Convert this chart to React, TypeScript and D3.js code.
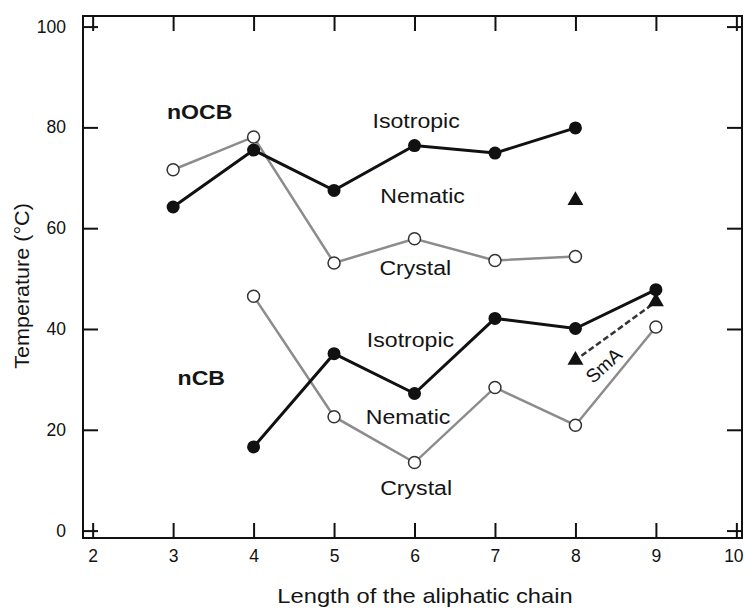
import React, { useEffect, useRef } from "react";
import * as d3 from "d3";

// chain length (n)
const nOCBChain = [3, 4, 5, 6, 7, 8];
const nOCBIsotropic = [64.2, 75.5, 67.5, 76.4, 74.9, 79.9];
const nOCBCrystal = [71.6, 78.1, 53.1, 57.9, 53.6, 54.4];
const nOCBSmA = [{ n: 8, t: 65.5 }];

const nCBChain = [4, 5, 6, 7, 8, 9];
const nCBIsotropic = [16.6, 35.1, 27.2, 42.1, 40.1, 47.8];
const nCBCrystal = [46.5, 22.6, 13.5, 28.4, 20.9, 40.4];
const nCBSmA = [{ n: 8, t: 33.8 }, { n: 9, t: 45.4 }];

const xTicks = [2, 3, 4, 5, 6, 7, 8, 9, 10];
const yTicks = [0, 20, 40, 60, 80, 100];

// phase labels, placed in data coordinates
const phaseLabels = [
    { text: "nOCB", n: 3.33, t: 83.2, bold: true },
    { text: "Isotropic", n: 6.02, t: 81.4, bold: false },
    { text: "Nematic", n: 6.1, t: 66.5, bold: false },
    { text: "Crystal", n: 6.01, t: 52.2, bold: false },
    { text: "nCB", n: 3.35, t: 30.4, bold: true },
    { text: "Isotropic", n: 5.95, t: 38.0, bold: false },
    { text: "Nematic", n: 5.92, t: 22.7, bold: false },
    { text: "Crystal", n: 6.02, t: 8.6, bold: false },
];

const W = 744;
const H = 610;
const FONT = "'Liberation Sans', Arial, Helvetica, sans-serif";

const App: React.FC = () => {
    const svgRef = useRef<SVGSVGElement>(null);

    useEffect(() => {
        if (!svgRef.current) return;
        const svg = d3.select(svgRef.current);
        svg.selectAll("*").remove();

        const left = 83, right = 742, top = 16, bottom = 538;

        const x = d3.scaleLinear().domain([1.88, 10.07]).range([left, right]);
        const y = d3.scaleLinear().domain([-1.47, 102.1]).range([bottom, top]);

        // frame
        svg.append("rect")
            .attr("x", left).attr("y", top)
            .attr("width", right - left).attr("height", bottom - top)
            .attr("fill", "none").attr("stroke", "#111").attr("stroke-width", 2);

        // inward ticks on all four sides
        const tk = 15;
        const axes = [
            { g: d3.axisBottom(x).tickValues(xTicks).tickSize(-tk), t: `translate(0,${bottom})` },
            { g: d3.axisTop(x).tickValues(xTicks).tickSize(-tk).tickFormat(() => ""), t: `translate(0,${top})` },
            { g: d3.axisLeft(y).tickValues(yTicks).tickSize(-tk), t: `translate(${left},0)` },
            { g: d3.axisRight(y).tickValues(yTicks).tickSize(-tk).tickFormat(() => ""), t: `translate(${right},0)` },
        ];
        axes.forEach((a, i) => {
            const ax = svg.append("g").attr("transform", a.t).call(a.g as any);
            ax.select(".domain").remove();
            ax.selectAll(".tick line").attr("stroke", "#111").attr("stroke-width", 2);
            ax.selectAll(".tick text")
                .attr("fill", "#111")
                .style("font-family", FONT)
                .style("font-size", "17.5px");
            if (i === 0) {
                ax.selectAll(".tick text").attr("y", 12);
                // keep the last label inside the page
                ax.selectAll<SVGTextElement, number>(".tick text")
                    .filter(d => d === 10)
                    .attr("dx", -3);
            }
            if (i === 2) ax.selectAll(".tick text").attr("x", -17);
        });

        const line = d3.line<[number, number]>().x(d => x(d[0])).y(d => y(d[1]));
        const grey = "#8c8c8c";

        const drawSeries = (chain: number[], iso: number[], cry: number[]) => {
            const isoPts = chain.map((n, i) => [n, iso[i]] as [number, number]);
            const cryPts = chain.map((n, i) => [n, cry[i]] as [number, number]);

            svg.append("path").attr("d", line(cryPts) || "")
                .attr("fill", "none").attr("stroke", grey).attr("stroke-width", 2.5);
            svg.append("path").attr("d", line(isoPts) || "")
                .attr("fill", "none").attr("stroke", "#111").attr("stroke-width", 3);

            svg.append("g").selectAll("circle").data(cryPts).enter().append("circle")
                .attr("cx", d => x(d[0])).attr("cy", d => y(d[1])).attr("r", 6)
                .attr("fill", "#fff").attr("stroke", "#333").attr("stroke-width", 1.5);
            svg.append("g").selectAll("circle").data(isoPts).enter().append("circle")
                .attr("cx", d => x(d[0])).attr("cy", d => y(d[1])).attr("r", 6.5)
                .attr("fill", "#111");
        };

        drawSeries(nOCBChain, nOCBIsotropic, nOCBCrystal);
        drawSeries(nCBChain, nCBIsotropic, nCBCrystal);

        // SmA dashed link (9 -> 8)
        svg.append("line")
            .attr("x1", x(nCBSmA[1].n) - 4).attr("y1", y(nCBSmA[1].t) + 3)
            .attr("x2", x(nCBSmA[0].n) + 4).attr("y2", y(nCBSmA[0].t) - 3)
            .attr("stroke", "#333").attr("stroke-width", 2.5)
            .attr("stroke-dasharray", "6,3");

        const tri = d3.symbol().type(d3.symbolTriangle).size(110);
        svg.append("g").selectAll("path").data([...nOCBSmA, ...nCBSmA]).enter().append("path")
            .attr("d", tri)
            .attr("transform", d => `translate(${x(d.n)},${y(d.t)})`)
            .attr("fill", "#111");

        // phase labels
        phaseLabels.forEach(l => {
            svg.append("text")
                .attr("transform", `translate(${x(l.n)},${y(l.t)}) scale(1.1,1)`)
                .attr("text-anchor", "middle")
                .attr("dy", "0.36em")
                .attr("fill", "#151515")
                .style("font-family", FONT)
                .style("font-size", "21px")
                .style("font-weight", l.bold ? "bold" : "normal")
                .text(l.text);
        });

        svg.append("text")
            .attr("transform", `translate(${x(8.35)},${y(32.8)}) rotate(-42)`)
            .attr("text-anchor", "middle")
            .attr("dy", "0.36em")
            .attr("fill", "#151515")
            .style("font-family", FONT)
            .style("font-size", "19px")
            .text("SmA");

        // axis titles
        svg.append("text")
            .attr("transform", `translate(425,603) scale(1.13,1)`)
            .attr("text-anchor", "middle")
            .attr("fill", "#151515")
            .style("font-family", FONT)
            .style("font-size", "21px")
            .text("Length of the aliphatic chain");

        svg.append("text")
            .attr("transform", `translate(29,286) rotate(-90) scale(1.08,1)`)
            .attr("text-anchor", "middle")
            .attr("fill", "#151515")
            .style("font-family", FONT)
            .style("font-size", "20px")
            .text("Temperature (°C)");
    }, []);

    return (
        <svg
            ref={svgRef}
            width={W}
            height={H}
            style={{ position: "absolute", top: 0, left: 0, background: "#fff" }}
        />
    );
};

export default App;
